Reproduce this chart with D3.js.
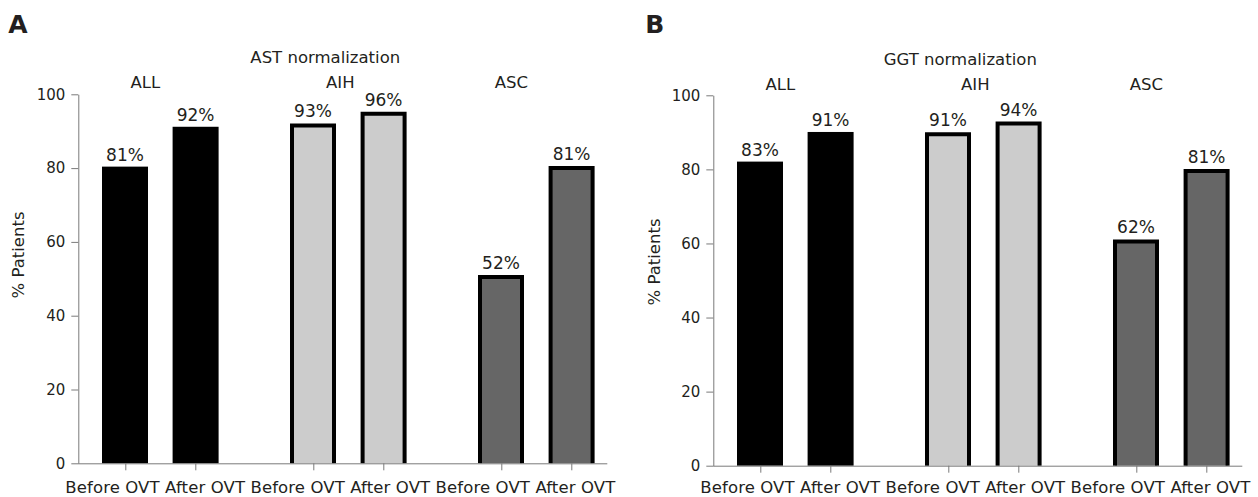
<!DOCTYPE html>
<html>
<head>
<meta charset="utf-8">
<script src="https://cdn.jsdelivr.net/npm/d3@7"></script>
<style>
  body { margin: 0; background: #fff; }
  text { font-family: 'DejaVu Sans', Verdana, sans-serif; fill: #231f20; }
</style>
</head>
<body>
<div id="chart"></div>
<script>
const groups = ['ALL', 'AIH', 'ASC'];
const periods = ['Before OVT', 'After OVT'];
const yTicks = [0, 20, 40, 60, 80, 100];

const astValues = [80.4, 91.2, 92.1, 95.3, 51.0, 80.6];
const astLabels = ['81%', '92%', '93%', '96%', '52%', '81%'];
const ggtValues = [82.1, 90.1, 90.0, 92.9, 61.1, 80.1];
const ggtLabels = ['83%', '91%', '91%', '94%', '62%', '81%'];

const groupFills = ['#000000', '#cccccc', '#666666'];
const groupBorder = [false, true, true];

const width = 1258;
const height = 497;

const svg = d3.select('#chart').append('svg')
  .attr('width', width)
  .attr('height', height);

const drawPanel = (opt) => {
  const g = svg.append('g').attr('transform', `translate(${opt.left},0)`);
  const plotW = 529;
  const barW = 46;
  const stroke = 4;

  const y = d3.scaleLinear().domain([0, 100]).range([opt.bottom, opt.top]);
  const xGroup = d3.scalePoint().domain(groups).range([82, 458]);
  const xInner = d3.scalePoint().domain(periods).range([-35.3, 35.3]);

  const rows = [];
  groups.forEach((grp, gi) => {
    periods.forEach((p, pi) => {
      const i = gi * periods.length + pi;
      rows.push({group: grp, gi, period: p, value: opt.values[i], label: opt.labels[i]});
    });
  });
  const cx = d => xGroup(d.group) + xInner(d.period);

  // panel letter
  svg.append('text')
    .attr('x', opt.left - opt.letterDx)
    .attr('y', 33)
    .style('font-size', '25px')
    .style('font-weight', 'bold')
    .text(opt.letter);

  // title
  g.append('text')
    .attr('x', 247)
    .attr('y', opt.titleY)
    .attr('text-anchor', 'middle')
    .style('font-size', '16.5px')
    .text(opt.title);

  // group labels
  const groupShift = [-15, -8, -25];
  g.selectAll('.grp')
    .data(groups)
    .enter().append('text')
      .attr('class', 'grp')
      .attr('x', (d, i) => xGroup(d) + groupShift[i])
      .attr('y', opt.groupY)
      .attr('text-anchor', 'middle')
      .style('font-size', '16.5px')
      .text(d => d);

  // bars
  const bar = g.selectAll('.bar')
    .data(rows)
    .enter().append('g')
      .attr('class', 'bar');

  bar.filter(d => !groupBorder[d.gi]).append('rect')
    .attr('x', d => cx(d) - barW / 2)
    .attr('y', d => y(d.value))
    .attr('width', barW)
    .attr('height', d => y(0) - y(d.value))
    .style('fill', d => groupFills[d.gi]);

  bar.filter(d => groupBorder[d.gi]).append('path')
    .attr('d', d => {
      const x0 = cx(d) - barW / 2 + stroke / 2;
      const x1 = cx(d) + barW / 2 - stroke / 2;
      const top = y(d.value) + stroke / 2;
      return `M${x0},${y(0)}V${top}H${x1}V${y(0)}`;
    })
    .style('fill', d => groupFills[d.gi])
    .style('stroke', '#000')
    .style('stroke-width', stroke);

  bar.append('text')
    .attr('x', d => cx(d))
    .attr('y', d => y(d.value) - 6)
    .attr('text-anchor', 'middle')
    .style('font-size', '17px')
    .text(d => d.label);

  // y axis
  const yAxis = g.append('g')
    .call(d3.axisLeft(y).tickValues(yTicks).tickSize(7).tickSizeOuter(0).tickPadding(6));
  yAxis.select('.domain').style('stroke', '#7a7a7a');
  yAxis.selectAll('.tick line').style('stroke', '#7a7a7a');
  yAxis.selectAll('.tick text')
    .style('font-size', '15px')
    .style('font-family', "'DejaVu Sans', Verdana, sans-serif")
    .style('fill', '#231f20');

  // x axis
  g.append('line')
    .attr('x1', 0).attr('x2', plotW)
    .attr('y1', y(0) + 0.5).attr('y2', y(0) + 0.5)
    .style('stroke', '#7a7a7a');
  g.selectAll('.xtick')
    .data(rows)
    .enter().append('line')
      .attr('class', 'xtick')
      .attr('x1', d => Math.round(cx(d)) + 0.5)
      .attr('x2', d => Math.round(cx(d)) + 0.5)
      .attr('y1', y(0))
      .attr('y2', y(0) + 7)
      .style('stroke', '#7a7a7a');

  g.append('text')
    .attr('x', 262)
    .attr('y', 493)
    .attr('text-anchor', 'middle')
    .attr('textLength', 550)
    .attr('lengthAdjust', 'spacing')
    .style('font-size', '16.5px')
    .text(rows.map(d => d.period).join(' '));

  // y title
  g.append('text')
    .attr('transform', `translate(${-opt.left + opt.yTitleX},${opt.yTitleY}) rotate(-90)`)
    .attr('text-anchor', 'middle')
    .style('font-size', '16.5px')
    .text('% Patients');
};

drawPanel({
  left: 78.3, top: 94.3, bottom: 463.3,
  letter: 'A', letterDx: 70,
  title: 'AST normalization', titleY: 63, groupY: 88,
  values: astValues, labels: astLabels,
  yTitleX: 24, yTitleY: 255
});

drawPanel({
  left: 713.3, top: 95.3, bottom: 465.7,
  letter: 'B', letterDx: 68,
  title: 'GGT normalization', titleY: 65, groupY: 90,
  values: ggtValues, labels: ggtLabels,
  yTitleX: 660, yTitleY: 262
});
</script>
</body>
</html>
